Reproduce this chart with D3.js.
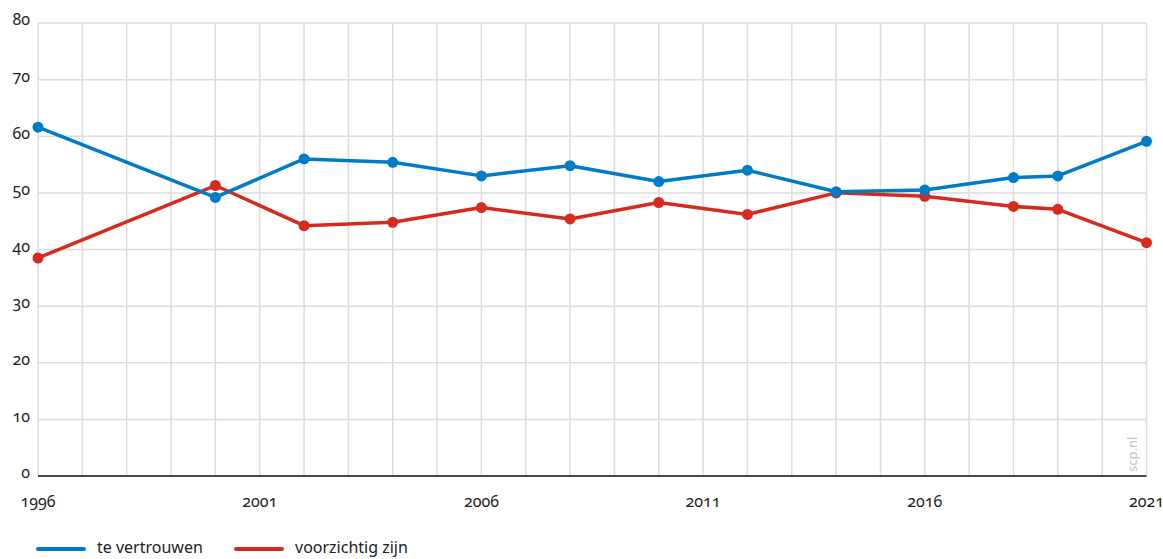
<!DOCTYPE html>
<html>
<head>
<meta charset="utf-8">
<script src="https://cdn.jsdelivr.net/npm/d3@7"></script>
<style>
  html, body { margin: 0; padding: 0; background: #fff; }
  svg text { font-family: "Noto Sans", "Open Sans", sans-serif; font-variant-numeric: oldstyle-nums; font-feature-settings: "onum" 1; fill: #222; }
</style>
</head>
<body>
<svg id="chart" width="1163" height="559"></svg>
<script>
const years = [1996, 2000, 2002, 2004, 2006, 2008, 2010, 2012, 2014, 2016, 2018, 2019, 2021];
const teVertrouwen = [61.6, 49.2, 56.0, 55.4, 53.0, 54.8, 52.0, 54.0, 50.2, 50.5, 52.7, 53.0, 59.1];
const voorzichtigZijn = [38.5, 51.3, 44.2, 44.8, 47.4, 45.4, 48.3, 46.2, 50.0, 49.4, 47.6, 47.1, 41.2];
const seriesNames = ["te vertrouwen", "voorzichtig zijn"];
const seriesColors = ["#007bc7", "#d52b1e"];
const xTickLabels = [1996, 2001, 2006, 2011, 2016, 2021];
const yTickLabels = [0, 10, 20, 30, 40, 50, 60, 70, 80];

const svg = d3.select("#chart");
const pLeft = 38, pRight = 1146.5, pTop = 23, pBottom = 476;

const x = d3.scaleLinear().domain([1996, 2021]).range([pLeft, pRight]);
const y = d3.scaleLinear().domain([0, 80]).range([pBottom, pTop]);

// grid
const grid = svg.append("g");
grid.selectAll("line.v").data(d3.range(1996, 2022)).enter().append("line")
  .attr("x1", d => x(d)).attr("x2", d => x(d))
  .attr("y1", pTop).attr("y2", pBottom)
  .attr("stroke", "#dcdcdc").attr("stroke-width", 1.5);
grid.selectAll("line.h").data(yTickLabels.filter(d => d > 0)).enter().append("line")
  .attr("x1", pLeft).attr("x2", pRight)
  .attr("y1", d => y(d)).attr("y2", d => y(d))
  .attr("stroke", "#dcdcdc").attr("stroke-width", 1.5);

// y labels
svg.append("g").selectAll("text").data(yTickLabels).enter().append("text")
  .attr("x", 30).attr("y", d => y(d) - 2)
  .attr("text-anchor", "end")
  .attr("font-size", 16)
  .attr("dominant-baseline", "middle")
  .text(d => d);

// x axis line
svg.append("line").attr("x1", pLeft).attr("x2", pRight)
  .attr("y1", pBottom).attr("y2", pBottom)
  .attr("stroke", "#111").attr("stroke-width", 1.5);

// x labels
svg.append("g").selectAll("text").data(xTickLabels).enter().append("text")
  .attr("x", d => x(d)).attr("y", 503)
  .attr("text-anchor", "middle")
  .attr("dominant-baseline", "middle")
  .attr("font-size", 16)
  .text(d => d);

// watermark
svg.append("text")
  .attr("transform", `translate(${x(2020.7)},${pBottom - 4}) rotate(-90)`)
  .attr("font-size", 13)
  .style("fill", "#c4c4c4")
  .attr("dominant-baseline", "middle")
  .text("scp.nl");

// lines
const seriesData = [teVertrouwen, voorzichtigZijn];
const line = d3.line().x((d, i) => x(years[i])).y(d => y(d));
[1, 0].forEach(k => {
  const g = svg.append("g");
  g.append("path").datum(seriesData[k])
    .attr("d", line)
    .attr("fill", "none")
    .attr("stroke", seriesColors[k])
    .attr("stroke-width", 3.5)
    .attr("stroke-linejoin", "round");
  g.selectAll("circle").data(seriesData[k]).enter().append("circle")
    .attr("cx", (d, i) => x(years[i]))
    .attr("cy", d => y(d))
    .attr("r", 5.5)
    .attr("fill", seriesColors[k]);
});

// legend
const legendX = [38, 236];
seriesNames.forEach((name, i) => {
  svg.append("line")
    .attr("x1", legendX[i]).attr("x2", legendX[i] + 46)
    .attr("y1", 549).attr("y2", 549)
    .attr("stroke", seriesColors[i]).attr("stroke-width", 4)
    .attr("stroke-linecap", "round");
  svg.append("text")
    .attr("x", legendX[i] + 59).attr("y", 549)
    .attr("dominant-baseline", "middle")
    .attr("font-size", 16)
    .text(name);
});
</script>
</body>
</html>
